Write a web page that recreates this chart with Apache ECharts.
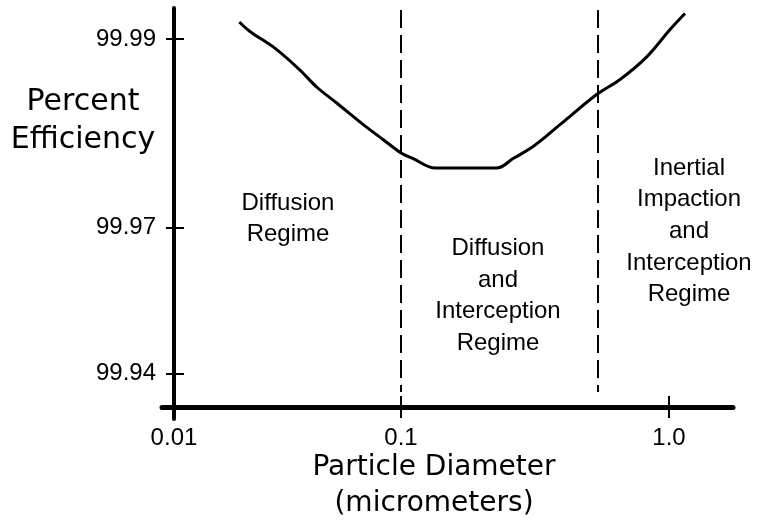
<!DOCTYPE html>
<html>
<head>
<meta charset="utf-8">
<script src="https://cdn.jsdelivr.net/npm/echarts@6/dist/echarts.min.js"></script>
<style>
  html, body { margin: 0; padding: 0; background: #fff; }
  #chart { width: 757px; height: 525px; }
</style>
</head>
<body>
<div id="chart"></div>
<script>
// ---------------- data ----------------
const diameters = [0.0194, 0.0216, 0.0279, 0.0359, 0.0425, 0.0521, 0.0682, 0.0836, 0.100, 0.111,
                   0.134, 0.228, 0.262, 0.312, 0.392, 0.537, 0.657, 0.826, 1.009, 1.147];
const efficiency = [99.9918, 99.9908, 99.9890, 99.9867, 99.9849, 99.9832, 99.9809, 99.9793, 99.9779, 99.9773,
                    99.9763, 99.9763, 99.9773, 99.9786, 99.9809, 99.9841, 99.9857, 99.9881, 99.9910, 99.9927];
const regimeBounds = [0.1, 0.54];
const xTickValues = [0.01, 0.1, 1.0];
const xTickLabels = ['0.01', '0.1', '1.0'];
const yTickValues = [99.94, 99.97, 99.99];
const yTickLabels = ['99.94', '99.97', '99.99'];
const regimeLabels = ['Diffusion\nRegime', 'Diffusion\nand\nInterception\nRegime', 'Inertial\nImpaction\nand\nInterception\nRegime'];

// ------------- schematic (non-uniform) axis scales -------------
const SCALE = {
  xPos: [0, 0.4586, 1],          // axis position of each x tick (log-spaced, unequal decades)
  yPos: [0.0916, 0.4883, 1],     // axis position of each y tick
  xMin: -0.0242, xMax: 1.1293,
  yMin: -0.0326, yMax: 1.0842,
  dashTop: 1.0788, dashBottom: 0.0408
};
function piecewise(v, keys, pos) {
  let i = 0;
  if (v > keys[1]) i = 1;
  const t = (v - keys[i]) / (keys[i + 1] - keys[i]);
  return pos[i] + t * (pos[i + 1] - pos[i]);
}
const xLogKeys = xTickValues.map(Math.log10);
function xMap(d) { return piecewise(Math.log10(d), xLogKeys, SCALE.xPos); }
function yMap(e) { return piecewise(e, yTickValues, SCALE.yPos); }

const curve = diameters.map((d, i) => [xMap(d), yMap(efficiency[i])]);
const xTickPos = xTickValues.map(xMap);
const yTickPos = yTickValues.map(yMap);
function labelFor(val, posArr, labels) {
  let best = 0;
  for (let i = 1; i < posArr.length; i++) if (Math.abs(posArr[i] - val) < Math.abs(posArr[best] - val)) best = i;
  return labels[best];
}

const LABEL_FONT = '"Liberation Sans", Arial, sans-serif';
const TITLE_FONT = '"DejaVu Sans", sans-serif';

const chart = echarts.init(document.getElementById('chart'), null, { renderer: 'canvas' });
const baseX = {
  type: 'value', min: SCALE.xMin, max: SCALE.xMax, position: 'bottom',
  splitLine: { show: false }, axisPointer: { show: false }
};
const baseY = {
  type: 'value', min: SCALE.yMin, max: SCALE.yMax, position: 'left',
  splitLine: { show: false }, axisPointer: { show: false }
};
chart.setOption({
  backgroundColor: '#fff',
  animation: false,
  grid: { left: 162, right: 24, top: 8, bottom: 106, containLabel: false },
  xAxis: [
    Object.assign({}, baseX, {
      axisLine: { show: true, onZero: true, lineStyle: { color: '#000', width: 5 } },
      axisTick: { show: true, inside: false, length: 11, customValues: xTickPos, lineStyle: { color: '#000', width: 2 } },
      axisLabel: {
        show: true, customValues: xTickPos, margin: 7, color: '#000',
        fontFamily: LABEL_FONT, fontSize: 24,
        formatter: v => labelFor(v, xTickPos, xTickLabels)
      }
    }),
    Object.assign({}, baseX, {
      axisLine: { show: false, onZero: true },
      axisTick: { show: true, inside: true, length: 11, customValues: xTickPos, lineStyle: { color: '#000', width: 2 } },
      axisLabel: { show: false }
    })
  ],
  yAxis: [
    Object.assign({}, baseY, {
      axisLine: { show: true, onZero: true, lineStyle: { color: '#000', width: 4 } },
      axisTick: { show: true, inside: false, length: 8, customValues: yTickPos, lineStyle: { color: '#000', width: 2 } },
      axisLabel: {
        show: true, customValues: yTickPos, margin: 6, color: '#000',
        fontFamily: LABEL_FONT, fontSize: 24,
        formatter: v => labelFor(v, yTickPos, yTickLabels)
      }
    }),
    Object.assign({}, baseY, {
      axisLine: { show: false, onZero: true },
      axisTick: { show: true, inside: true, length: 10, customValues: yTickPos, lineStyle: { color: '#000', width: 2 } },
      axisLabel: { show: false }
    })
  ],
  series: [{
    type: 'line',
    xAxisIndex: 0, yAxisIndex: 0,
    data: curve,
    showSymbol: false,
    smooth: 0.35,
    lineStyle: { color: '#000', width: 3 },
    silent: true,
    markLine: {
      silent: true,
      symbol: ['none', 'none'],
      label: { show: false },
      lineStyle: { color: '#000', width: 2, type: [18, 7] },
      data: regimeBounds.map(b => [
        { coord: [xMap(b), SCALE.dashTop] },
        { coord: [xMap(b), SCALE.dashBottom] }
      ])
    }
  }],
  graphic: [
    { type: 'text', silent: true, style: { text: 'Percent\nEfficiency', x: 83, y: 121.4, align: 'center', verticalAlign: 'middle',
      font: '30px ' + TITLE_FONT, lineHeight: 38, fill: '#000' } },
    { type: 'text', silent: true, style: { text: 'Particle Diameter\n(micrometers)', x: 434, y: 486.2, align: 'center', verticalAlign: 'middle',
      font: '28px ' + TITLE_FONT, lineHeight: 36, fill: '#000' } },
    { type: 'text', silent: true, style: { text: regimeLabels[0], x: 288, y: 218.9, align: 'center', verticalAlign: 'middle',
      font: '24px ' + LABEL_FONT, lineHeight: 31.6, fill: '#000' } },
    { type: 'text', silent: true, style: { text: regimeLabels[1], x: 498, y: 295.9, align: 'center', verticalAlign: 'middle',
      font: '24px ' + LABEL_FONT, lineHeight: 31.5, fill: '#000' } },
    { type: 'text', silent: true, style: { text: regimeLabels[2], x: 689, y: 231.4, align: 'center', verticalAlign: 'middle',
      font: '24px ' + LABEL_FONT, lineHeight: 31.6, fill: '#000' } }
  ]
});
</script>
</body>
</html>
